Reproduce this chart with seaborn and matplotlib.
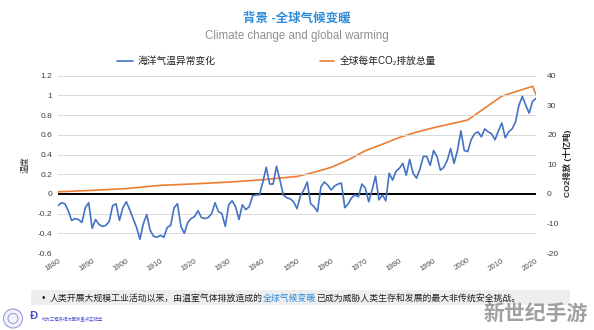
import numpy as np
import pandas as pd
import matplotlib
matplotlib.use("Agg")
import matplotlib.pyplot as plt
import seaborn as sns
from matplotlib.patches import Rectangle, Ellipse

# ---------------- data ----------------
years = list(range(1880, 2021))
temp_anomaly = [
    -0.12, -0.09, -0.10, -0.17, -0.27, -0.25, -0.26, -0.29, -0.14, -0.09,   # 1880s
    -0.35, -0.26, -0.31, -0.33, -0.32, -0.28, -0.12, -0.10, -0.27, -0.14,   # 1890s
    -0.08, -0.16, -0.25, -0.34, -0.46, -0.30, -0.21, -0.37, -0.43, -0.44,   # 1900s
    -0.42, -0.44, -0.34, -0.32, -0.14, -0.10, -0.33, -0.40, -0.29, -0.25,   # 1910s
    -0.23, -0.17, -0.24, -0.25, -0.24, -0.20, -0.09, -0.18, -0.20, -0.33,   # 1920s
    -0.11, -0.07, -0.13, -0.26, -0.11, -0.16, -0.13, -0.02, -0.01, -0.01,   # 1930s
    0.12, 0.27, 0.10, 0.10, 0.28, 0.14, -0.01, -0.04, -0.05, -0.08,         # 1940s
    -0.15, -0.02, 0.04, 0.12, -0.10, -0.13, -0.18, 0.07, 0.12, 0.09,        # 1950s
    0.04, 0.08, 0.10, 0.11, -0.14, -0.10, -0.04, -0.01, -0.03, 0.10,        # 1960s
    0.06, -0.08, 0.04, 0.18, -0.06, -0.01, -0.07, 0.21, 0.14, 0.23,         # 1970s
    0.26, 0.31, 0.19, 0.35, 0.21, 0.16, 0.25, 0.38, 0.38, 0.29,             # 1980s
    0.44, 0.38, 0.24, 0.27, 0.34, 0.46, 0.31, 0.44, 0.64, 0.44,             # 1990s
    0.43, 0.55, 0.61, 0.63, 0.58, 0.66, 0.63, 0.61, 0.55, 0.64,             # 2000s
    0.72, 0.57, 0.63, 0.66, 0.73, 0.90, 0.99, 0.90, 0.82, 0.94,             # 2010s
    0.97,                                                                   # 2020
]
assert len(temp_anomaly) == len(years)

co2_years = [1880, 1890, 1900, 1910, 1920, 1930, 1940, 1950, 1955, 1960, 1965,
             1970, 1975, 1980, 1985, 1990, 1995, 2000, 2010, 2019, 2020]
co2_emissions = [0.7, 1.2, 1.8, 2.9, 3.4, 4.0, 4.8, 5.9, 7.3, 9.0, 11.5,
                 14.6, 16.8, 19.1, 20.9, 22.4, 23.7, 25.0, 33.1, 36.4, 33.6]

x_ticks = list(range(1880, 2021, 10))
left_ticks = [-0.6, -0.4, -0.2, 0, 0.2, 0.4, 0.6, 0.8, 1.0, 1.2]
left_tick_labels = ["-0.6", "-0.4", "-0.2", "0", "0.2", "0.4", "0.6", "0.8", "1", "1.2"]
right_ticks = [-20, -10, 0, 10, 20, 30, 40]

title_cn = "背景 -全球气候变暖"
title_en = "Climate change and global warming"
series_temp = "海洋气温异常变化"
series_co2 = "全球每年CO₂排放总量"
left_label = "温度"
right_label = "CO2排放 (十亿吨)"
note_a = "人类开展大规模工业活动以来，由温室气体排放造成的"
note_b = "全球气候变暖"
note_c = "已成为威胁人类生存和发展的最大非传统安全挑战。"
lab_name = "动力工程多相流国家重点实验室"
watermark = "新世纪手游"

df_temp = pd.DataFrame({"year": years, "value": temp_anomaly})
df_co2 = pd.DataFrame({"year": co2_years, "value": co2_emissions})

# ---------------- style ----------------
sns.set_theme(style="white")
FAM = ["Liberation Sans", "Noto Sans CJK SC", "DejaVu Sans"]
plt.rcParams["font.family"] = FAM
plt.rcParams["axes.unicode_minus"] = False

BLUE = "#4472C4"
ORANGE = "#ED7D31"
TITLE_BLUE = "#2E8BD8"

W, H = 594, 330
fig = plt.figure(figsize=(W / 100, H / 100), dpi=100)
fig.patch.set_facecolor("white")

x0, x1 = 58, 536
ytop, ybot = 75.7, 253
ax = fig.add_axes([x0 / W, 1 - ybot / H, (x1 - x0) / W, (ybot - ytop) / H])
ax2 = ax.twinx()

ax.set_zorder(2)
ax.patch.set_visible(False)

# gridlines
for t in left_ticks:
    if t != 0:
        ax.axhline(t, color="#d9d9d9", lw=0.7, zorder=0)

sns.lineplot(data=df_co2, x="year", y="value", ax=ax2, color=ORANGE, lw=1.2,
             label=series_co2, legend=False)
ax.axhline(0, color="black", lw=1.4, zorder=1)
sns.lineplot(data=df_temp, x="year", y="value", ax=ax, color=BLUE, lw=1.2,
             label=series_temp, legend=False, zorder=3)

ax.set_xlim(1880, 2020)
ax.set_ylim(-0.6, 1.2)
ax2.set_ylim(-20, 40)

ax.set_xticks(x_ticks)
ax.set_xticklabels([str(t) for t in x_ticks], rotation=32, ha="right",
                   rotation_mode="anchor", fontsize=5.6, color="#505050")
ax.set_yticks(left_ticks)
ax.set_yticklabels(left_tick_labels, fontsize=6, color="#404040")
ax2.set_yticks(right_ticks)
ax2.set_yticklabels([str(t) for t in right_ticks], fontsize=6, color="#404040")
ax.tick_params(axis="both", length=0, pad=4)
ax.tick_params(axis="x", pad=3)
ax2.tick_params(axis="y", length=0, pad=8)
ax.grid(False)
ax2.grid(False)
for a in (ax, ax2):
    for s in a.spines.values():
        s.set_visible(False)
ax.set_xlabel("")
ax.set_ylabel("")
ax2.set_ylabel("")

fig.text(25 / W, 1 - 165 / H, left_label, rotation=90, ha="center", va="center",
         fontsize=6, color="#333333", family=FAM)
fig.text(567 / W, 1 - 163 / H, right_label, rotation=90, ha="center", va="center",
         fontsize=6, color="#262626", fontweight="bold", family=FAM)

# titles
fig.text(0.5, 1 - 18 / H, title_cn, ha="center", va="center", fontsize=9,
         color=TITLE_BLUE, fontweight="bold", family=FAM)
fig.text(0.5, 1 - 36 / H, title_en, ha="center", va="center", fontsize=8.3,
         color="#909090", family=FAM)

# legends
h1, l1 = ax.get_legend_handles_labels()
h2, l2 = ax2.get_legend_handles_labels()
fig.legend(h1, l1, loc="center left", bbox_to_anchor=(117 / W, 1 - 61 / H),
           frameon=False, fontsize=7, handlelength=1.65, handletextpad=0.45,
           borderpad=0, borderaxespad=0, labelcolor="#222222")
fig.legend(h2, l2, loc="center left", bbox_to_anchor=(320 / W, 1 - 61 / H),
           frameon=False, fontsize=7, handlelength=1.4, handletextpad=0.6,
           borderpad=0, borderaxespad=0, labelcolor="#222222")

# bottom note box
fig.patches.append(Rectangle((31 / W, 1 - 305 / H), (570 - 31) / W, 15 / H,
                             transform=fig.transFigure, facecolor="#eeeeee",
                             edgecolor="none", zorder=0))
fig.text(43 / W, 1 - 298 / H, "•", ha="center", va="center", fontsize=7,
         color="#222222", family=FAM)
r = fig.canvas.get_renderer()
t1 = fig.text(50 / W, 1 - 298 / H, note_a, ha="left", va="center", fontsize=6.4,
              color="#222222", family=FAM)
bb = t1.get_window_extent(renderer=r)
t2 = fig.text(bb.x1 / W, 1 - 298 / H, note_b, ha="left", va="center", fontsize=6.4,
              color=TITLE_BLUE, family=FAM)
bb2 = t2.get_window_extent(renderer=r)
fig.text(bb2.x1 / W, 1 - 298 / H, note_c, ha="left", va="center", fontsize=6.4,
         color="#222222", family=FAM)

# small logos
fig.patches.append(Ellipse((13 / W, 1 - 318.5 / H), 19 / W, 19 / H,
                           transform=fig.transFigure, facecolor="#f2f2fb",
                           edgecolor="#9a9ad8", lw=0.8))
fig.patches.append(Ellipse((13 / W, 1 - 318.5 / H), 10 / W, 10 / H,
                           transform=fig.transFigure, facecolor="none",
                           edgecolor="#8c8cd0", lw=0.6))
fig.text(34 / W, 1 - 316 / H, "Ð", ha="center", va="center", fontsize=8,
         color="#4a4ad0", fontweight="bold", family=FAM)
fig.text(42 / W, 1 - 319 / H, lab_name, ha="left", va="center", fontsize=3.2,
         color="#5b5bd6", family=FAM)

# watermark
fig.text(536 / W, 1 - 314 / H, watermark, ha="center", va="center", fontsize=15,
         color="#8f8f8f", fontweight="bold", alpha=0.85, family=FAM)

fig.savefig("out.png", dpi=100, facecolor="white")
